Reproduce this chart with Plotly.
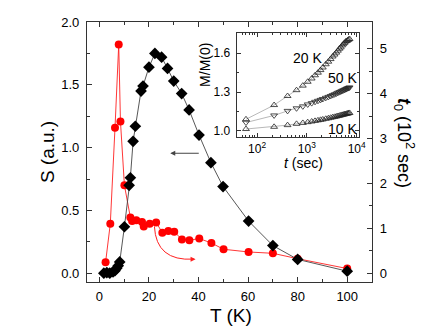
import plotly.graph_objects as go

# ---- main panel data ----
T_S = [1.8, 3.0, 4.2, 5.5, 6.3, 7.0, 7.6, 8.2, 10.1, 12.0, 12.5, 13.6, 14.5, 16.8, 17.6,
       20.0, 22.4, 25.1, 27.5, 30.0, 33.2, 36.2, 40.2, 45.0, 49.9, 60.2, 70.0, 80.0, 100.0]
S_vals = [0.0, 0.005, 0.0, 0.01, 0.02, 0.04, 0.06, 0.09, 0.37, 0.70, 0.76, 1.05, 1.17, 1.45, 1.49,
          1.64, 1.75, 1.72, 1.63, 1.53, 1.43, 1.30, 1.10, 0.88, 0.69, 0.415, 0.22, 0.11, 0.016]

T_t0 = [2.5, 4.4, 6.3, 7.8, 8.5, 10.1, 12.5, 13.2, 14.9, 17.2, 17.9, 20.3, 22.9, 25.4, 27.8,
        30.2, 33.3, 36.3, 40.3, 45.2, 50.1, 60.2, 70.0, 80.0, 100.0]
t0_vals = [0.24, 1.10, 3.24, 5.10, 3.38, 1.96, 1.24, 1.16, 1.18, 1.14, 1.04, 1.10, 1.13, 0.90, 0.94,
           0.92, 0.75, 0.73, 0.77, 0.67, 0.53, 0.47, 0.44, 0.32, 0.10]

# ---- inset data ----
t_sec = [60, 220, 410, 620, 830, 1040, 1250, 1460, 1670, 1880, 2090, 2400, 2700, 3000,
         3300, 3600, 3900, 4200, 4500, 4800, 5100, 5400, 5700, 6000, 6300, 6600, 6900, 7200]
M_20K = [1.09, 1.20, 1.27, 1.315, 1.35, 1.38, 1.405, 1.43, 1.45, 1.47, 1.49, 1.515, 1.535, 1.555,
         1.575, 1.59, 1.605, 1.62, 1.635, 1.645, 1.66, 1.67, 1.68, 1.69, 1.695, 1.70, 1.705, 1.71]
M_50K = [1.065, 1.12, 1.155, 1.175, 1.19, 1.205, 1.215, 1.225, 1.233, 1.24, 1.247, 1.256, 1.263, 1.27,
         1.277, 1.283, 1.289, 1.295, 1.30, 1.305, 1.31, 1.314, 1.318, 1.322, 1.326, 1.33, 1.333, 1.336]
M_10K = [1.015, 1.032, 1.045, 1.055, 1.062, 1.068, 1.073, 1.078, 1.082, 1.086, 1.089, 1.094, 1.098, 1.102,
         1.106, 1.109, 1.112, 1.115, 1.118, 1.121, 1.124, 1.126, 1.129, 1.131, 1.133, 1.135, 1.137, 1.139]

FONT = "Arial, Liberation Sans, sans-serif"
AX = "#333"

fig = go.Figure()

# red: t0 on right axis (primary y, drawn below)
fig.add_trace(go.Scatter(x=T_t0, y=t0_vals, mode="lines+markers", xaxis="x", yaxis="y",
                         line=dict(color="#ff2020", width=0.9),
                         marker=dict(symbol="circle", size=8, color="#ff0000"),
                         showlegend=False))
# black: S on left axis (overlay, drawn on top)
fig.add_trace(go.Scatter(x=T_S, y=S_vals, mode="lines+markers", xaxis="x", yaxis="y2",
                         line=dict(color="#444", width=0.9),
                         marker=dict(symbol="diamond", size=9, color="black"),
                         showlegend=False))

# inset
for M, sym in [(M_20K, "triangle-up-open"), (M_50K, "triangle-down-open"), (M_10K, "triangle-up-open")]:
    fig.add_trace(go.Scatter(x=t_sec, y=M, mode="lines+markers", xaxis="x2", yaxis="y3",
                             line=dict(color="#999", width=0.7),
                             marker=dict(symbol=sym, size=6, color="#222", line=dict(width=0.8)),
                             showlegend=False))

tickfont = dict(family=FONT, size=13, color="black")
fig.update_layout(
    width=436, height=330,
    margin=dict(l=87, r=64, t=22, b=48),
    paper_bgcolor="white", plot_bgcolor="white",
    font=dict(family=FONT, color="black"),
    xaxis=dict(domain=[0, 1], range=[-5, 110], tickvals=[0, 20, 40, 60, 80, 100],
               ticks="inside", ticklen=5, tickwidth=1, tickcolor=AX,
               minor=dict(tickvals=[10, 30, 50, 70, 90], ticks="inside", ticklen=3, tickcolor=AX),
               showline=True, linecolor=AX, linewidth=1.3, mirror="ticks",
               showgrid=False, zeroline=False, tickfont=tickfont, ticklabelstandoff=2),
    yaxis=dict(domain=[0, 1], range=[-0.2, 5.6], side="right", anchor="x",
               tickvals=[0, 1, 2, 3, 4, 5],
               ticks="inside", ticklen=5, tickwidth=1, tickcolor=AX,
               minor=dict(tickvals=[0.5, 1.5, 2.5, 3.5, 4.5], ticks="inside", ticklen=3, tickcolor=AX),
               showline=True, linecolor=AX, linewidth=1.3,
               showgrid=False, zeroline=False, tickfont=tickfont, ticklabelstandoff=4),
    yaxis2=dict(overlaying="y", side="left", anchor="x", range=[-0.07, 2.0],
                tickvals=[0, 0.5, 1.0, 1.5, 2.0], ticktext=["0.0", "0.5", "1.0", "1.5", "2.0"],
                ticks="inside", ticklen=5, tickwidth=1, tickcolor=AX,
                minor=dict(tickvals=[0.25, 0.75, 1.25, 1.75], ticks="inside", ticklen=3, tickcolor=AX),
                showline=True, linecolor=AX, linewidth=1.3,
                showgrid=False, zeroline=False, tickfont=tickfont, ticklabelstandoff=4),
    xaxis2=dict(domain=[0.525, 0.955], anchor="y3", type="log", range=[1.59, 4.05],
                tickvals=[100, 1000, 10000],
                ticktext=["10<sup>2</sup>", "10<sup>3</sup>", "10<sup>4</sup>"],
                ticks="inside", ticklen=4, tickwidth=1, tickcolor=AX,
                minor=dict(tickvals=[50, 60, 70, 80, 90, 200, 300, 400, 500, 600, 700, 800, 900,
                                     2000, 3000, 4000, 5000, 6000, 7000, 8000, 9000],
                           ticks="inside", ticklen=2, tickcolor=AX),
                showline=True, linecolor=AX, linewidth=1, mirror="ticks",
                showgrid=False, zeroline=False,
                tickfont=dict(family=FONT, size=12, color="black"), ticklabelstandoff=1),
    yaxis3=dict(domain=[0.559, 0.957], anchor="x2", range=[0.956, 1.755],
                tickvals=[1.0, 1.3, 1.6], ticktext=["1.0", "1.3", "1.6"],
                ticks="inside", ticklen=4, tickwidth=1, tickcolor=AX,
                minor=dict(tickvals=[1.15, 1.45], ticks="inside", ticklen=2, tickcolor=AX),
                showline=True, linecolor=AX, linewidth=1, mirror="ticks",
                showgrid=False, zeroline=False,
                tickfont=dict(family=FONT, size=12, color="black"), ticklabelstandoff=3),
)

def ann(text, x, y, size, angle=0):
    fig.add_annotation(text=text, x=x, y=y, xref="paper", yref="paper", showarrow=False,
                       xanchor="center", yanchor="middle", textangle=angle,
                       font=dict(family=FONT, size=size, color="black"))

ann("S (a.u.)", -0.140, 0.50, 19, -90)
ann("T (K)", 0.505, -0.127, 19)
ann("<b><i>t</i></b><sub>0</sub> (10<sup>2</sup> sec)", 1.112, 0.535, 18, 90)
ann("M/M(0)", 0.414, 0.835, 14, -90)
ann("<i>t</i> (sec)", 0.761, 0.458, 14)
ann("20 K", 0.775, 0.862, 14)
ann("50 K", 0.895, 0.785, 14)
ann("10 K", 0.895, 0.588, 14)

# black arrow pointing left (to S axis)
fig.add_annotation(x=28.6, y=0.955, ax=40.7, ay=0.955, xref="x", yref="y2", axref="x", ayref="y2",
                   text="", showarrow=True, arrowhead=2, arrowsize=1, arrowwidth=1, arrowcolor="#444")

# red curved arrow pointing right (to t0 axis)
fig.add_shape(type="path", xref="x", yref="y", path="M 22.2,1.04 Q 22.9,0.26 38.0,0.31",
              line=dict(color="#ff2020", width=1))
fig.add_annotation(x=38.8, y=0.31, ax=-6, ay=0, xref="x", yref="y", text="", showarrow=True,
                   arrowhead=2, arrowsize=1, arrowwidth=1, arrowcolor="#ff2020")

fig.write_html("out.html", config={"displayModeBar": False},
               post_script="document.body.style.margin='0px';")
